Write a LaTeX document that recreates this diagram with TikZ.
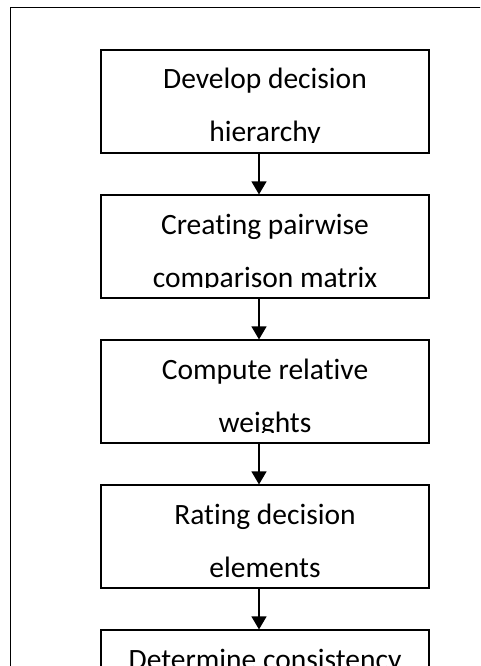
\documentclass[tikz,border=0pt]{standalone}
\usepackage{fontspec}
\setmainfont{Carlito}[Ligatures={NoCommon,NoContextual}]
\usetikzlibrary{arrows.meta}
\begin{document}
\begin{tikzpicture}[x=1pt,y=1pt]
			\tikzstyle{stage}=[draw=black, line width=1.2pt, minimum width=328pt, minimum height=103pt, inner sep=0pt]
			\tikzstyle{stagetext}=[inner sep=0pt, align=center, font=\fontsize{29.5}{53}\selectfont]
			\tikzstyle{flow}=[draw=black, line width=1.2pt, -{Triangle[length=13pt,width=15pt]}]
			\useasboundingbox (0,0) rectangle (480,-666);
			\clip (0,0) rectangle (480,-666);
			\draw [black, line width=1pt] (10,-8) rectangle (490,-700);
			\node [stage] (dev) at (265,-101.5) {};
			\node [stage] (pair) at (265,-246.5) {};
			\node [stage] (weight) at (265,-391.5) {};
			\node [stage] (rate) at (265,-536.5) {};
			\node [stage] (cons) at (265,-681.5) {};
			% second lines are cut just under the baseline
			\begin{scope}
				\clip (101,-50) rectangle (429,-142.8)
					(101,-195) rectangle (429,-287.8)
					(101,-340) rectangle (429,-432.8)
					(101,-485) rectangle (429,-577.8)
					(101,-630) rectangle (429,-722.8);
				\node [stagetext, anchor=base] (devtext) at (265,-142) {Develop decision\\hierarchy};
				\node [stagetext, anchor=base] (pairtext) at (265,-287) {Creating pairwise\\comparison matrix};
				\node [stagetext, anchor=base] (weighttext) at (265,-432) {Compute relative\\weights};
				\node [stagetext, anchor=base] (ratetext) at (265,-577) {Rating decision\\elements};
				\node [stagetext, anchor=base] (constext) at (265,-722) {Determine consistency\\ratio};
			\end{scope}
			\draw [flow] ([xshift=-6pt]dev.south) -- ([xshift=-6pt]pair.north);
			\draw [flow] ([xshift=-6pt]pair.south) -- ([xshift=-6pt]weight.north);
			\draw [flow] ([xshift=-6pt]weight.south) -- ([xshift=-6pt]rate.north);
			\draw [flow] ([xshift=-6pt]rate.south) -- ([xshift=-6pt]cons.north);
\end{tikzpicture}
\end{document}
